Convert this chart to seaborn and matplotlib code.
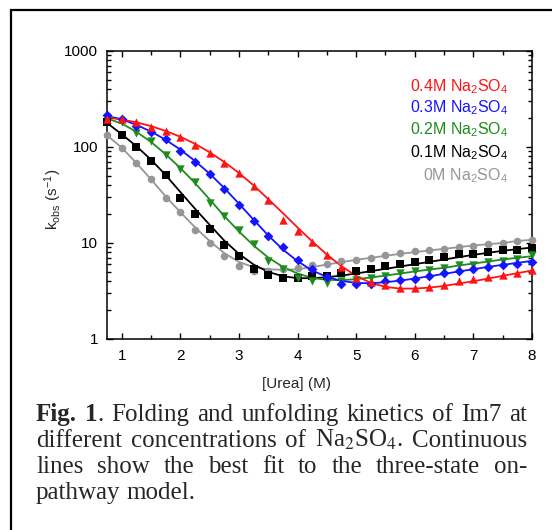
import matplotlib
matplotlib.use("Agg")
import matplotlib.pyplot as plt
from matplotlib.patches import Rectangle
from matplotlib.ticker import MultipleLocator, NullFormatter, LogLocator
import pandas as pd
import seaborn as sns

# ---- data --------------------------------------------------------------------
urea = [0.75, 1.0, 1.25, 1.5, 1.75, 2.0, 2.25, 2.5, 2.75, 3.0,
        3.25, 3.5, 3.75, 4.0, 4.25, 4.5, 4.75, 5.0, 5.25, 5.5,
        5.75, 6.0, 6.25, 6.5, 6.75, 7.0, 7.25, 7.5, 7.75, 8.0]

k_04 = [198, 196, 183, 162, 146, 128, 106, 87.5, 68.8, 53.7,
        38.9, 28.3, 17.5, 13.3, 10.2, 7.41, 5.60, 4.33, 3.90, 3.66,
        3.41, 3.38, 3.52, 3.69, 4.00, 4.20, 4.44, 4.66, 4.88, 5.25]
fit_04 = [203, 193, 181, 165, 147, 128, 108, 88.2, 69.9, 53.7,
          39.9, 28.7, 20.5, 14.5, 10.4, 7.59, 5.73, 4.55, 3.84, 3.49,
          3.35, 3.35, 3.43, 3.57, 3.78, 4.00, 4.26, 4.55, 4.85, 5.17]

k_03 = [215, 197, 166, 142, 121, 90.3, 69.9, 51.9, 36.2, 24.7,
        16.9, 11.8, 8.98, 6.73, 5.42, 4.47, 3.78, 3.78, 3.78, 4.00,
        4.13, 4.26, 4.58, 4.85, 5.17, 5.38, 5.60, 5.92, 6.11, 6.36]
fit_03 = [210, 195, 170, 145, 119, 94.0, 71.6, 52.8, 37.4, 25.7,
          17.5, 12.0, 8.56, 6.47, 5.17, 4.44, 4.03, 3.84, 3.81, 3.90,
          4.06, 4.26, 4.51, 4.77, 5.05, 5.33, 5.64, 5.92, 6.21, 6.52]

k_02 = [198, 183, 140, 115, 82.0, 59.6, 43.2, 26.1, 19.1, 13.8,
        9.65, 6.57, 5.38, 4.33, 4.06, 3.84, 4.00, 4.16, 4.33, 4.58,
        4.85, 5.05, 5.25, 5.51, 5.83, 5.97, 6.31, 6.52, 6.84, 7.47]
fit_02 = [198, 176, 144, 113, 84.0, 60.5, 42.2, 28.5, 19.1, 13.2,
          9.42, 7.06, 5.64, 4.81, 4.33, 4.13, 4.10, 4.20, 4.37, 4.58,
          4.81, 5.05, 5.29, 5.51, 5.83, 6.11, 6.41, 6.73, 7.01, 7.29]

k_01 = [181, 134, 100, 72.2, 51.1, 29.6, 20.2, 14.1, 9.58, 7.35,
        5.38, 4.66, 4.33, 4.33, 4.51, 4.58, 4.88, 5.09, 5.42, 5.73,
        6.07, 6.36, 6.73, 7.12, 7.59, 7.65, 7.97, 8.36, 8.49, 8.77]
fit_01 = [178, 136, 102, 73.9, 51.1, 34.0, 22.8, 15.5, 10.6, 7.71,
          5.97, 5.00, 4.51, 4.30, 4.30, 4.40, 4.58, 4.81, 5.09, 5.38,
          5.69, 6.02, 6.36, 6.73, 7.12, 7.53, 7.90, 8.29, 8.63, 8.98]

k_00 = [132, 98.6, 67.7, 46.1, 29.6, 20.8, 13.7, 9.89, 7.24, 5.78,
        5.17, 5.17, 5.38, 5.47, 5.83, 6.11, 6.52, 6.73, 7.06, 7.53,
        7.90, 8.16, 8.36, 8.70, 9.13, 9.20, 9.65, 10.0, 10.4, 10.8]
fit_00 = [132, 98.6, 68.2, 46.1, 30.6, 21.0, 14.6, 10.5, 7.84, 6.36,
          5.60, 5.33, 5.25, 5.33, 5.60, 5.97, 6.31, 6.68, 7.01, 7.35,
          7.71, 8.03, 8.36, 8.70, 9.06, 9.42, 9.73, 10.0, 10.5, 10.8]

labels = ["0M", "0.1M", "0.2M", "0.3M", "0.4M"]
y_ticks = [1, 10, 100, 1000]
y_ticklabels = ["1", "10", "100", "1000"]
x_ticks = [1, 2, 3, 4, 5, 6, 7, 8]

# ---- style -------------------------------------------------------------------
sns.set_style("ticks")
plt.rcParams.update({
    "font.family": ["Liberation Sans", "DejaVu Sans"],
    "mathtext.fontset": "custom",
    "mathtext.rm": "Liberation Sans",
    "mathtext.it": "Liberation Sans:italic",
    "axes.edgecolor": "black",
    "axes.linewidth": 1.1,
})

colors = {"0M": "#969696", "0.1M": "#000000", "0.2M": "#1e8c1e",
          "0.3M": "#1414ff", "0.4M": "#ff1414"}
markers = {"0M": ("o", 30), "0.1M": ("s", 28), "0.2M": ("v", 36),
           "0.3M": ("D", 25), "0.4M": ("^", 36)}

frames = []
for lab, k, fit in zip(labels, [k_00, k_01, k_02, k_03, k_04],
                       [fit_00, fit_01, fit_02, fit_03, fit_04]):
    frames.append(pd.DataFrame({"urea": urea, "kobs": k, "fit": fit, "salt": lab}))
df = pd.concat(frames, ignore_index=True)

fig = plt.figure(figsize=(5.52, 5.30), dpi=100)
ax = fig.add_axes([107 / 552, 1 - 339 / 530, 425 / 552, 288 / 530])

for lab in labels:
    sub = df[df["salt"] == lab]
    sns.lineplot(data=sub, x="urea", y="fit", color=colors[lab], lw=1.3,
                 estimator=None, sort=True, ax=ax, zorder=2)
    m, s = markers[lab]
    sns.scatterplot(data=sub, x="urea", y="kobs", color=colors[lab], marker=m,
                    s=s, linewidth=0, ax=ax, zorder=3, clip_on=False)

ax.set_yscale("log")
ax.set_xlim(0.75, 8.0)
ax.set_ylim(1, 1000)
ax.set_xticks(x_ticks, labels=[str(v) for v in x_ticks])
ax.xaxis.set_minor_locator(MultipleLocator(0.5))
ax.set_yticks(y_ticks, labels=y_ticklabels)
ax.yaxis.set_minor_locator(LogLocator(base=10, subs=range(2, 10)))
ax.yaxis.set_minor_formatter(NullFormatter())
ax.tick_params(which="both", direction="in", top=True, right=True,
               labelsize=11, width=1.0, colors="black")
ax.tick_params(which="major", length=4.0)
ax.tick_params(which="minor", length=2.6)
ax.tick_params(axis="x", pad=7)
ax.tick_params(axis="y", pad=6.5)

ax.set_xlabel("[Urea] (M)", fontsize=11, va="center")
ax.xaxis.set_label_coords(0.445, -0.156)
ax.set_ylabel(r"k$_{\mathrm{obs}}$ (s$^{-1}$)", fontsize=11, va="center")
ax.yaxis.set_label_coords(-0.127, 0.483)

# inline legend, right aligned
leg_y = [91, 112, 134, 157, 180]
for lab, yb in zip(labels[::-1], leg_y):
    ax.text((508 - 107) / 425, (339 - yb) / 288, lab + r" Na$_2$SO$_4$",
            color=colors[lab], fontsize=11.5, ha="right", va="baseline",
            transform=ax.transAxes)

# figure frame (cropped box: only top and left edges visible)
fig.add_artist(Rectangle((11 / 552, -0.1), 1.2, 1 - 10 / 530 + 0.1,
                         transform=fig.transFigure, fill=False,
                         edgecolor="black", lw=1.6, clip_on=False))

# ---- justified caption -------------------------------------------------------
renderer = fig.canvas.get_renderer()
cap_size = 18
x_left, x_right = 36, 527


def caption_line(words, y_base, justify=True):
    placed = []
    for word in words:
        segs = []
        for txt, weight in word:
            t = fig.text(0, 0, txt, fontsize=cap_size, fontweight=weight,
                         family="Liberation Serif", math_fontfamily="stix",
                         ha="left", va="baseline")
            segs.append((t, t.get_window_extent(renderer).width))
        placed.append(segs)
    widths = [sum(w for _, w in segs) for segs in placed]
    space = cap_size * 0.25 * 100 / 72
    if justify and len(words) > 1:
        space = (x_right - x_left - sum(widths)) / (len(words) - 1)
    x = x_left
    for segs, wd in zip(placed, widths):
        xx = x
        for t, w in segs:
            t.set_position((xx / 552, 1 - y_base / 530))
            xx += w
        x += wd + space


n, b = "normal", "bold"
caption_line([[("Fig.", b)], [("1", b), (".", n)], [("Folding", n)], [("and", n)],
              [("unfolding", n)], [("kinetics", n)], [("of", n)], [("Im7", n)],
              [("at", n)]], 421)
caption_line([[("different", n)], [("concentrations", n)], [("of", n)],
              [(r"Na$_2$SO$_4$.", n)], [("Continuous", n)]], 447)
caption_line([[("lines", n)], [("show", n)], [("the", n)], [("best", n)],
              [("fit", n)], [("to", n)], [("the", n)], [("three-state", n)],
              [("on-", n)]], 473)
caption_line([[("pathway", n)], [("model.", n)]], 499, justify=False)

fig.savefig("out.png", dpi=100)
